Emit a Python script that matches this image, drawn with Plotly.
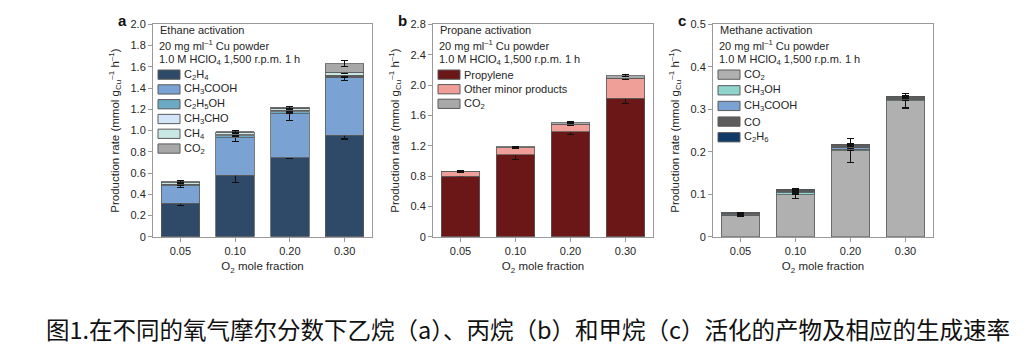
import plotly.graph_objects as go

# ---------------- data ----------------
categories = ["0.05", "0.10", "0.20", "0.30"]

# Panel a: ethane activation (segment values, mmol g-1 h-1)
eth_names = ["C<sub>2</sub>H<sub>4</sub>", "CH<sub>3</sub>COOH", "C<sub>2</sub>H<sub>5</sub>OH",
             "CH<sub>3</sub>CHO", "CH<sub>4</sub>", "CO<sub>2</sub>"]
eth_c2h4 = [0.316, 0.578, 0.745, 0.955]
eth_ch3cooh = [0.164, 0.352, 0.415, 0.548]
eth_c2h5oh = [0.008, 0.020, 0.015, 0.010]
eth_ch3cho = [0.005, 0.010, 0.015, 0.010]
eth_ch4 = [0.017, 0.020, 0.020, 0.027]
eth_co2 = [0.010, 0.010, 0.010, 0.080]
eth_c2h4_err = [0.02, 0.07, 0.01, 0.035]
eth_ch3cooh_err = [0.02, 0.035, 0.065, 0.03]
eth_c2h5oh_err = [0.005, 0.01, 0.01, 0.01]
eth_ch3cho_err = [0.005, 0.01, 0.01, 0.01]
eth_ch4_err = [0.008, 0.01, 0.01, 0.01]
eth_co2_err = [0.008, 0.01, 0.01, 0.03]

# Panel b: propane activation
pro_names = ["Propylene", "Other minor products", "CO<sub>2</sub>"]
pro_propylene = [0.800, 1.083, 1.385, 1.827]
pro_other = [0.058, 0.089, 0.098, 0.263]
pro_co2 = [0.004, 0.013, 0.021, 0.034]
pro_propylene_err = [0.01, 0.07, 0.035, 0.07]
pro_other_err = [0.01, 0.01, 0.02, 0.02]
pro_co2_err = [0.005, 0.005, 0.008, 0.01]

# Panel c: methane activation
met_names = ["CO<sub>2</sub>", "CH<sub>3</sub>OH", "CH<sub>3</sub>COOH", "CO", "C<sub>2</sub>H<sub>6</sub>"]
met_co2 = [0.050, 0.099, 0.203, 0.320]
met_ch3oh = [0.002, 0.004, 0.003, 0.002]
met_ch3cooh = [0.002, 0.003, 0.004, 0.002]
met_co = [0.002, 0.004, 0.006, 0.005]
met_c2h6 = [0.001, 0.002, 0.002, 0.002]
met_co2_err = [0.002, 0.01, 0.028, 0.017]
met_ch3oh_err = [0.001, 0.003, 0.003, 0.002]
met_ch3cooh_err = [0.001, 0.003, 0.003, 0.002]
met_co_err = [0.001, 0.003, 0.004, 0.003]
met_c2h6_err = [0.001, 0.002, 0.002, 0.002]

yticks_a = [0, 0.2, 0.4, 0.6, 0.8, 1.0, 1.2, 1.4, 1.6, 1.8, 2.0]
yticktext_a = ["0", "0.2", "0.4", "0.6", "0.8", "1.0", "1.2", "1.4", "1.6", "1.8", "2.0"]
yticks_b = [0, 0.4, 0.8, 1.2, 1.6, 2.0, 2.4, 2.8]
yticktext_b = ["0", "0.4", "0.8", "1.2", "1.6", "2.0", "2.4", "2.8"]
yticks_c = [0, 0.1, 0.2, 0.3, 0.4, 0.5]
yticktext_c = ["0", "0.1", "0.2", "0.3", "0.4", "0.5"]

panel_titles = ["Ethane activation", "Propane activation", "Methane activation"]
panel_letters = ["a", "b", "c"]
caption = "图1.在不同的氧气摩尔分数下乙烷（a）、丙烷（b）和甲烷（c）活化的产物及相应的生成速率"

# ---------------- styling ----------------
eth_colors = ["#2f4a68", "#7aa3d3", "#6aaac4", "#d3e6f8", "#c9e8e4", "#a8a8a8"]
pro_colors = ["#6b1718", "#f09e98", "#a8a8a8"]
met_colors = ["#b0b0b0", "#8fd5cd", "#7aa3d3", "#5c5c5c", "#0d3a66"]

FONT = "Liberation Sans, Arial, sans-serif"
TXT = "#262626"
AX = "#9a9a9a"
OUTLINE = "#5a5a5a"

fig = go.Figure()


def add_bar(name, vals, errs, color, xa, ya):
    fig.add_trace(go.Bar(
        x=categories, y=vals, name=name, xaxis=xa, yaxis=ya, showlegend=False,
        width=0.7,
        marker=dict(color=color, line=dict(color=OUTLINE, width=0.8)),
        error_y=dict(type="data", array=errs, visible=True, color="#111111",
                     thickness=1.1, width=3.5),
    ))


eth_vals = [eth_c2h4, eth_ch3cooh, eth_c2h5oh, eth_ch3cho, eth_ch4, eth_co2]
eth_errs = [eth_c2h4_err, eth_ch3cooh_err, eth_c2h5oh_err, eth_ch3cho_err, eth_ch4_err, eth_co2_err]
pro_vals = [pro_propylene, pro_other, pro_co2]
pro_errs = [pro_propylene_err, pro_other_err, pro_co2_err]
met_vals = [met_co2, met_ch3oh, met_ch3cooh, met_co, met_c2h6]
met_errs = [met_co2_err, met_ch3oh_err, met_ch3cooh_err, met_co_err, met_c2h6_err]

for n, v, e, c in zip(eth_names, eth_vals, eth_errs, eth_colors):
    add_bar(n, v, e, c, "x", "y")
for n, v, e, c in zip(pro_names, pro_vals, pro_errs, pro_colors):
    add_bar(n, v, e, c, "x2", "y2")
for n, v, e, c in zip(met_names, met_vals, met_errs, met_colors):
    add_bar(n, v, e, c, "x3", "y3")

W, H = 1031, 359
ydom = [1 - 238.7 / H, 1 - 19 / H]
xdoms = [[153 / W, 372 / W], [433 / W, 653 / W], [713 / W, 933 / W]]

ytitle = "Production rate (mmol g<sub>Cu</sub><sup>\u20131</sup> h<sup>\u20131</sup>)"
xtitle = "O<sub>2</sub> mole fraction"

common_x = dict(type="category", showline=True, linecolor=AX, linewidth=1, mirror=True,
                ticks="outside", ticklen=4, tickcolor=AX, showgrid=False, zeroline=False,
                range=[-0.5, 3.5], tickfont=dict(size=11, color=TXT, family=FONT),
                title=dict(text=xtitle, font=dict(size=11.5, color=TXT, family=FONT), standoff=6))
common_y = dict(showline=True, linecolor=AX, linewidth=1, mirror=True,
                ticks="outside", ticklen=4, tickcolor=AX, showgrid=False, zeroline=False,
                tickfont=dict(size=11, color=TXT, family=FONT),
                title=dict(text=ytitle, font=dict(size=11.5, color=TXT, family=FONT), standoff=8))

fig.update_layout(
    width=W, height=H, margin=dict(l=0, r=0, t=0, b=0, pad=0),
    paper_bgcolor="white", plot_bgcolor="white",
    barmode="stack", bargap=0.3, showlegend=False,
    font=dict(family=FONT, color=TXT),
)
fig.update_layout(
    xaxis=dict(domain=xdoms[0], anchor="y", **common_x),
    yaxis=dict(domain=ydom, anchor="x", range=[0, 2.0], tickvals=yticks_a, ticktext=yticktext_a, **common_y),
    xaxis2=dict(domain=xdoms[1], anchor="y2", **common_x),
    yaxis2=dict(domain=ydom, anchor="x2", range=[0, 2.8], tickvals=yticks_b, ticktext=yticktext_b, **common_y),
    xaxis3=dict(domain=xdoms[2], anchor="y3", **common_x),
    yaxis3=dict(domain=ydom, anchor="x3", range=[0, 0.5], tickvals=yticks_c, ticktext=yticktext_c, **common_y),
)

anns = []
shapes = []
TFONT = dict(size=11, color=TXT, family=FONT)


def py(px):
    return 1 - px / H


def pxx(px):
    return px / W


legend_sets = [(eth_names, eth_colors, 15.3), (pro_names, pro_colors, 15.1), (met_names, met_colors, 16.2)]
for i in range(3):
    x0 = xdoms[i][0] * W
    anns.append(dict(text=panel_titles[i], x=pxx(x0 + 5), y=py(24.5), xref="paper", yref="paper",
                     xanchor="left", yanchor="middle", showarrow=False, font=TFONT))
    anns.append(dict(text="20 mg ml<sup>\u20131</sup> Cu powder",
                     x=pxx(x0 + 4), y=py(40.5), xref="paper", yref="paper",
                     xanchor="left", yanchor="middle", showarrow=False, font=TFONT))
    anns.append(dict(text="1.0 M HClO<sub>4</sub> 1,500 r.p.m. 1 h",
                     x=pxx(x0 + 4), y=py(55.5), xref="paper", yref="paper",
                     xanchor="left", yanchor="middle", showarrow=False, font=TFONT))
    anns.append(dict(text="<b>%s</b>" % panel_letters[i], x=pxx(x0 - 31), y=py(15), xref="paper", yref="paper",
                     xanchor="center", yanchor="middle", showarrow=False,
                     font=dict(size=15, color="#111111", family=FONT)))
    # legend keys
    names, colors, step = legend_sets[i]
    for k, (n, c) in enumerate(zip(names, colors)):
        yc = 71 + k * step
        shapes.append(dict(type="rect", xref="paper", yref="paper",
                           x0=pxx(x0 + 5), x1=pxx(x0 + 27), y0=py(yc - 4.8), y1=py(yc + 4.8),
                           fillcolor=c, line=dict(color=OUTLINE, width=1)))
        anns.append(dict(text=n, x=pxx(x0 + 29), y=py(yc), xref="paper", yref="paper",
                         xanchor="left", yanchor="middle", showarrow=False, font=TFONT))

anns.append(dict(text=caption, x=pxx(528), y=py(334), xref="paper", yref="paper",
                 xanchor="center", yanchor="middle", showarrow=False,
                 font=dict(size=23.5, color="#111111", family="Noto Sans CJK SC")))
fig.update_layout(annotations=anns, shapes=shapes)

fig.write_html("out.html", config={"displayModeBar": False},
               post_script="document.body.style.margin='0';document.body.style.overflow='hidden';")
